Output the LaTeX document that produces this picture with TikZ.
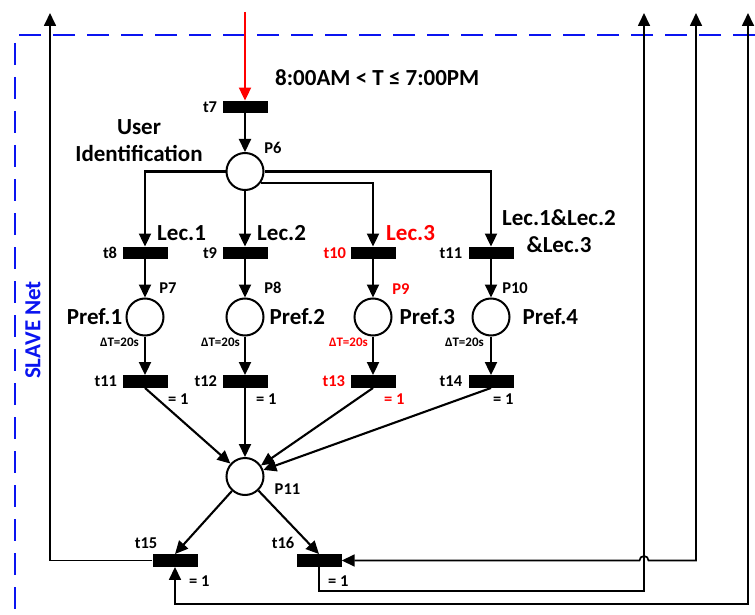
\documentclass[tikz,border=0pt]{standalone}
\usepackage{fontspec}
\setmainfont{Carlito}
\usepackage{tikz}
\usetikzlibrary{positioning,arrows.meta}
\definecolor{alarm}{HTML}{FF0000}
\definecolor{netblue}{HTML}{0A14F0}

\begin{document}
\begin{tikzpicture}[x=1pt, y=-1pt, >={Triangle[length=13pt,width=12pt]}, font=\bfseries,
    place/.style={circle, draw, line width=2pt, minimum size=37pt, inner sep=0pt},
    trans/.style={rectangle, fill=black, minimum width=45pt, minimum height=12.5pt, inner sep=0pt},
    flow/.style={->, line width=2.1pt},
    fb/.style={line width=1.7pt},
    bigtxt/.style={font=\fontsize{23}{27}\selectfont\bfseries, inner sep=0pt},
    smalltxt/.style={font=\fontsize{16.5}{18}\selectfont\bfseries, inner sep=0pt},
    dttxt/.style={font=\fontsize{13}{15}\selectfont\bfseries, inner sep=0pt}]
    \useasboundingbox (0,0) rectangle (755,615);

    % SLAVE net frame
    \draw[netblue, line width=2.4pt, dash pattern=on 22pt off 12pt] (755,35) -- (15,35) -- (15,615);
    \node[bigtxt, netblue, rotate=90] (slave) at (33,330) {SLAVE Net};

    % places and transitions
    \node[trans] (t7) at (245,107) {};
    \node[place] (P6) at (245,171.5) {};
    \node[trans] (t8) at (145,253) {};
    \node[trans] (t9) at (245,253) {};
    \node[trans] (t10) at (373,253) {};
    \node[trans] (t11x) at (491,253) {};
    \node[place] (P7) at (145,317) {};
    \node[place] (P8) at (245,317) {};
    \node[place] (P9) at (373,317) {};
    \node[place] (P10) at (491,317) {};
    \node[trans] (t11) at (145,381.5) {};
    \node[trans] (t12) at (245,381.5) {};
    \node[trans] (t13) at (373,381.5) {};
    \node[trans] (t14) at (491,381.5) {};
    \node[place] (P11) at (245,476.5) {};
    \node[trans] (t15) at (175,560.5) {};
    \node[trans] (t16) at (319,560.5) {};

    \coordinate (in7) at (245,12);
    \coordinate (out15) at (50,13);
    \coordinate (out16) at (644,13);
    \coordinate (in16) at (696,13);
    \coordinate (in15) at (748,13);
    \coordinate (loop16) at (319,591);
    \coordinate (loop15) at (175,604);

    % labels
    \node[bigtxt, anchor=west] (guard) at (275,78) {8:00AM < T ≤ 7:00PM};
    \node[bigtxt, align=center] (user) at (139,141) {User\\Identification};
    \node[smalltxt, left=5pt of t7] (t7l) {t7};
    \node[smalltxt] (P6l) at (273,148) {P6};
    \node[bigtxt, anchor=west] (lec1) at (157,233) {Lec.1};
    \node[bigtxt, anchor=west] (lec2) at (257,233) {Lec.2};
    \node[bigtxt, anchor=west, alarm] (lec3) at (386,233) {Lec.3};
    \node[bigtxt, align=center] (lecall) at (559,231.5) {Lec.1\&Lec.2\\\&Lec.3};
    \node[smalltxt, left=5pt of t8] (t8l) {t8};
    \node[smalltxt, left=5pt of t9] (t9l) {t9};
    \node[smalltxt, left=4pt of t10, alarm] (t10l) {t10};
    \node[smalltxt, left=6pt of t11x] (t11xl) {t11};
    \node[smalltxt] (P7l) at (168,288) {P7};
    \node[smalltxt] (P8l) at (273,288) {P8};
    \node[smalltxt, alarm] (P9l) at (401,289) {P9};
    \node[smalltxt] (P10l) at (515,288) {P10};
    \node[bigtxt, left=3pt of P7] (pref1) {Pref.1};
    \node[bigtxt, right=5pt of P8] (pref2) {Pref.2};
    \node[bigtxt, right=7pt of P9] (pref3) {Pref.3};
    \node[bigtxt, right=12pt of P10] (pref4) {Pref.4};
    \node[dttxt, anchor=east] (dt7) at (139,342) {ΔT=20s};
    \node[dttxt, anchor=east] (dt8) at (240,342) {ΔT=20s};
    \node[dttxt, anchor=east, alarm] (dt9) at (368,342) {ΔT=20s};
    \node[dttxt, anchor=east] (dt10) at (484,342) {ΔT=20s};
    \node[smalltxt, left=5pt of t11] (t11l) {t11};
    \node[smalltxt, left=5pt of t12] (t12l) {t12};
    \node[smalltxt, left=5pt of t13, alarm] (t13l) {t13};
    \node[smalltxt, left=6pt of t14] (t14l) {t14};
    \node[smalltxt, anchor=west] (w11) at (168,399) {= 1};
    \node[smalltxt, anchor=west] (w12) at (256,399) {= 1};
    \node[smalltxt, anchor=west, alarm] (w13) at (384,399) {= 1};
    \node[smalltxt, anchor=west] (w14) at (493,399) {= 1};
    \node[smalltxt] (P11l) at (287.5,489) {P11};
    \node[smalltxt] (t15l) at (146,543) {t15};
    \node[smalltxt] (t16l) at (283,543) {t16};
    \node[smalltxt, anchor=west] (w15) at (189,581) {= 1};
    \node[smalltxt, anchor=west] (w16) at (328,581) {= 1};

    % arcs
    \draw[flow, alarm] (in7) -- (t7.north);
    \draw[flow] (t7) -- (P6);
    \draw[flow] (P6.west) -| (t8.north);
    \draw[flow] (P6) -- (t9);
    \draw[flow] (P6.-35) -| (t10.north);
    \draw[flow] (P6.east) -| (t11x.north);
    \draw[flow] (t8) -- (P7);
    \draw[flow] (t9) -- (P8);
    \draw[flow] (t10) -- (P9);
    \draw[flow] (t11x) -- (P10);
    \draw[flow] (P7) -- (t11);
    \draw[flow] (P8) -- (t12);
    \draw[flow] (P9) -- (t13);
    \draw[flow] (P10) -- (t14);
    \draw[flow] (t11.south) -- (P11);
    \draw[flow] (t12) -- (P11);
    \draw[flow] (t13.south) -- (P11);
    \draw[flow] (t14.south) -- (P11);
    \draw[flow] (P11) -- (t15.north);
    \draw[flow] (P11) -- (t16.north);

    % feedback to the master net
    \draw[fb, ->] (t15.west) -| (out15);
    \draw[fb, ->] (t16.south) -- (loop16) -| (out16);
    \draw[fb, <->] (in16) |- ([xshift=4.5pt]out16 |- t16.east) arc[start angle=0, end angle=180, radius=4.5pt] -- (t16.east);
    \draw[fb, <->] (in15) |- (loop15) -- (t15.south);
\end{tikzpicture}
\end{document}
